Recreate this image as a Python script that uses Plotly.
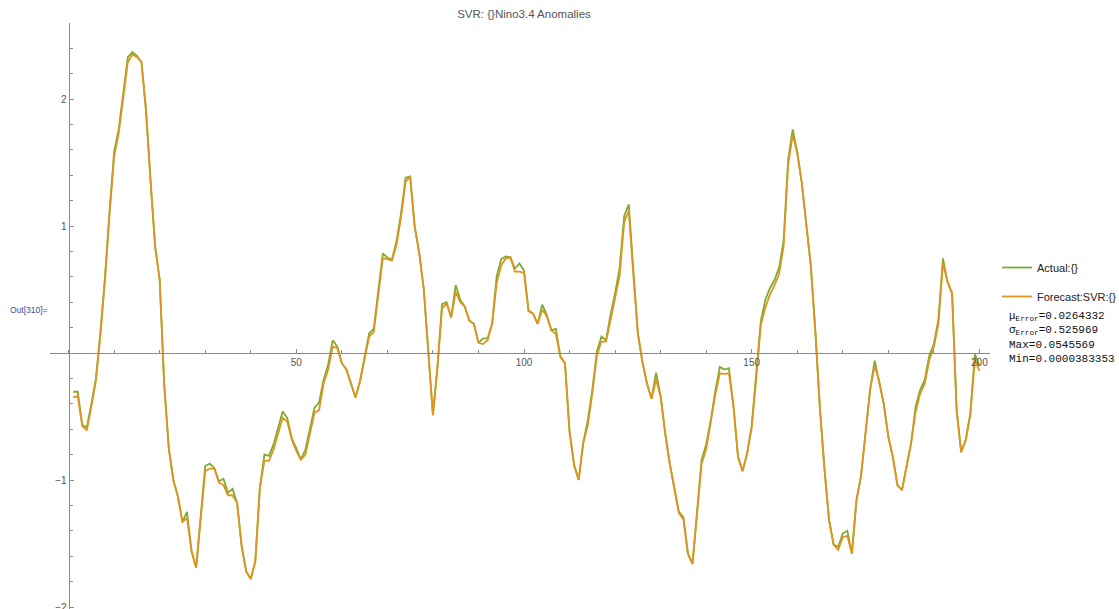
import plotly.graph_objects as go

# Monthly index (1..200) and the two series of Nino3.4 anomalies
months = list(range(1, 201))

actual = [
    -0.305, -0.305, -0.567, -0.585, -0.40, -0.20, 0.17, 0.60, 1.12, 1.585,
    1.76, 2.03, 2.33, 2.37, 2.34, 2.29, 1.91, 1.35, 0.84, 0.575,
    -0.25, -0.75, -1.00, -1.13, -1.33, -1.25, -1.56, -1.69, -1.30, -0.89,
    -0.87, -0.905, -1.01, -0.99, -1.10, -1.07, -1.18, -1.52, -1.72, -1.78,
    -1.64, -1.06, -0.80, -0.81, -0.72, -0.59, -0.46, -0.51, -0.67, -0.75,
    -0.84, -0.76, -0.59, -0.43, -0.39, -0.21, -0.09, 0.10, 0.05, -0.08,
    -0.13, -0.25, -0.35, -0.22, -0.03, 0.155, 0.19, 0.47, 0.785, 0.75,
    0.735, 0.88, 1.10, 1.38, 1.39, 0.995, 0.785, 0.50, -0.03, -0.49,
    -0.11, 0.385, 0.40, 0.28, 0.535, 0.42, 0.365, 0.255, 0.23, 0.08,
    0.115, 0.115, 0.23, 0.605, 0.74, 0.76, 0.755, 0.665, 0.705, 0.65,
    0.335, 0.31, 0.23, 0.38, 0.30, 0.18, 0.19, -0.03, -0.08, -0.62,
    -0.88, -1.00, -0.71, -0.53, -0.29, 0.01, 0.13, 0.10, 0.30, 0.47,
    0.67, 1.08, 1.17, 0.63, 0.155, -0.07, -0.24, -0.36, -0.155, -0.34,
    -0.63, -0.87, -1.05, -1.25, -1.29, -1.58, -1.66, -1.25, -0.84, -0.72,
    -0.53, -0.30, -0.11, -0.13, -0.12, -0.42, -0.82, -0.93, -0.79, -0.57,
    -0.19, 0.25, 0.42, 0.51, 0.575, 0.67, 0.88, 1.52, 1.76, 1.585,
    1.34, 1.02, 0.68, 0.155, -0.45, -0.92, -1.32, -1.51, -1.525, -1.42,
    -1.40, -1.58, -1.16, -0.97, -0.62, -0.29, -0.06, -0.225, -0.40, -0.66,
    -0.82, -1.04, -1.08, -0.895, -0.71, -0.42, -0.29, -0.21, -0.02, 0.07,
    0.265, 0.745, 0.56, 0.47, -0.45, -0.78, -0.685, -0.475, -0.01, -0.10,
]

forecast = [
    -0.35, -0.34, -0.575, -0.61, -0.42, -0.22, 0.15, 0.58, 1.10, 1.546,
    1.73, 1.99, 2.29, 2.35, 2.33, 2.29, 1.91, 1.35, 0.84, 0.575,
    -0.25, -0.75, -1.00, -1.13, -1.33, -1.30, -1.56, -1.69, -1.31, -0.93,
    -0.91, -0.91, -1.02, -1.04, -1.12, -1.12, -1.18, -1.52, -1.72, -1.78,
    -1.64, -1.06, -0.85, -0.85, -0.76, -0.63, -0.51, -0.54, -0.68, -0.77,
    -0.84, -0.80, -0.63, -0.47, -0.45, -0.24, -0.13, 0.05, 0.04, -0.08,
    -0.13, -0.25, -0.35, -0.22, -0.05, 0.13, 0.165, 0.44, 0.745, 0.74,
    0.73, 0.85, 1.07, 1.35, 1.39, 0.995, 0.785, 0.50, -0.03, -0.49,
    -0.11, 0.35, 0.39, 0.28, 0.48, 0.40, 0.365, 0.255, 0.23, 0.08,
    0.07, 0.10, 0.23, 0.55, 0.69, 0.745, 0.755, 0.64, 0.64, 0.63,
    0.33, 0.31, 0.23, 0.34, 0.29, 0.18, 0.15, -0.03, -0.08, -0.62,
    -0.88, -1.00, -0.71, -0.57, -0.32, -0.02, 0.09, 0.09, 0.26, 0.43,
    0.61, 1.03, 1.12, 0.62, 0.155, -0.07, -0.24, -0.36, -0.21, -0.34,
    -0.63, -0.87, -1.05, -1.26, -1.31, -1.58, -1.66, -1.25, -0.87, -0.76,
    -0.54, -0.33, -0.16, -0.165, -0.16, -0.42, -0.82, -0.93, -0.79, -0.59,
    -0.20, 0.22, 0.36, 0.46, 0.535, 0.62, 0.84, 1.48, 1.72, 1.57,
    1.34, 1.02, 0.68, 0.155, -0.45, -0.92, -1.32, -1.51, -1.55, -1.45,
    -1.44, -1.58, -1.16, -0.97, -0.62, -0.29, -0.10, -0.225, -0.40, -0.66,
    -0.82, -1.04, -1.08, -0.895, -0.71, -0.46, -0.32, -0.24, -0.055, 0.05,
    0.23, 0.705, 0.56, 0.47, -0.45, -0.78, -0.685, -0.49, -0.055, -0.14,
]

series_names = ["Actual:{}", "Forecast:SVR:{}"]
series_colors = ["#7fab2f", "#e0941f"]

x_tick_vals = [50, 100, 150, 200]
x_tick_text = ["50", "100", "150", "200"]
y_tick_vals = [-2, -1, 1, 2]
y_tick_text = ["\u22122", "\u22121", "1", "2"]

stats_lines = [
    "\u03bc<sub>Error</sub>=0.0264332",
    "\u03c3<sub>Error</sub>=0.525969",
    "Max=0.0545569",
    "Min=0.0000383353",
]

W, H = 1119, 609
L, R, T, B = 50, 129, 23, 0
PX_PER_X = 4.554
X0_PX = 68.6
PX_PER_Y = 127.0
Y0_PX = 353.0

x_range = [(L - X0_PX) / PX_PER_X, (W - R - X0_PX) / PX_PER_X]
y_range = [(Y0_PX - (H - B)) / PX_PER_Y, (Y0_PX - T) / PX_PER_Y]

plot_w = W - L - R
plot_h = H - T - B
xaxis_pos = ((H - B) - Y0_PX) / plot_h   # horizontal axis through y = 0
yaxis_pos = (X0_PX - L) / plot_w         # vertical axis through x = 0

axis_color = "#8a8a8a"
label_color = "#555555"
base_font = "Liberation Sans, Arial, sans-serif"

fig = go.Figure()
for name, ys, col, grp in zip(series_names, [actual, forecast], series_colors, ["a", "f"]):
    fig.add_trace(go.Scatter(
        x=months, y=ys, mode="lines", name=name, legendgroup=grp,
        line=dict(color=col, width=1.8),
    ))

fig.update_layout(
    width=W, height=H,
    margin=dict(l=L, r=R, t=T, b=B, pad=0, autoexpand=False),
    paper_bgcolor="white", plot_bgcolor="white",
    font=dict(family=base_font, size=10, color=label_color),
    title=dict(
        text="SVR: {}Nino3.4 Anomalies",
        x=524 / W, xref="container", xanchor="center",
        y=1 - 14 / H, yref="container", yanchor="middle",
        font=dict(family=base_font, size=11.5, color="#555555"),
    ),
    xaxis=dict(
        range=x_range, anchor="free", position=xaxis_pos,
        showgrid=False, zeroline=False, automargin=False,
        showline=True, linecolor=axis_color, linewidth=1,
        tickmode="array", tickvals=x_tick_vals, ticktext=x_tick_text,
        ticks="inside", ticklen=4, tickcolor=axis_color, tickwidth=1,
        minor=dict(tickmode="linear", tick0=0, dtick=10, ticks="inside",
                   ticklen=3, tickcolor=axis_color, tickwidth=1),
        tickfont=dict(size=10, color=label_color),
        ticklabeloverflow="allow",
    ),
    yaxis=dict(
        range=y_range, anchor="free", position=yaxis_pos,
        showgrid=False, zeroline=False, automargin=False,
        showline=True, linecolor=axis_color, linewidth=1,
        tickmode="array", tickvals=y_tick_vals, ticktext=y_tick_text,
        ticks="inside", ticklen=4, tickcolor=axis_color, tickwidth=1,
        minor=dict(tickmode="linear", tick0=0, dtick=0.2, ticks="inside",
                   ticklen=3, tickcolor=axis_color, tickwidth=1),
        tickfont=dict(size=10, color=label_color),
        ticklabeloverflow="allow",
    ),
    showlegend=True,
    legend=dict(
        xref="container", yref="container",
        x=997 / W, y=1 - 253 / H, xanchor="left", yanchor="top",
        font=dict(family=base_font, size=11, color="#222222"),
        bgcolor="rgba(0,0,0,0)", tracegroupgap=10, itemwidth=30,
    ),
)

# Error statistics printed under the legend
for i, txt in enumerate(stats_lines):
    fig.add_annotation(
        text=txt, xref="paper", yref="paper",
        x=(1007 - L) / plot_w, y=((H - B) - (316 + 14.5 * i)) / plot_h,
        xanchor="left", yanchor="middle", showarrow=False,
        font=dict(family="Liberation Mono, Courier New, monospace", size=11, color="#111111"),
    )

# Notebook output label
fig.add_annotation(
    text="Out[310]=", xref="paper", yref="paper",
    x=(8 - L) / plot_w, y=((H - B) - 310) / plot_h,
    xanchor="left", yanchor="middle", showarrow=False,
    font=dict(family=base_font, size=8.5, color="#3b4a9c"),
)

fig.write_html("out.html")
